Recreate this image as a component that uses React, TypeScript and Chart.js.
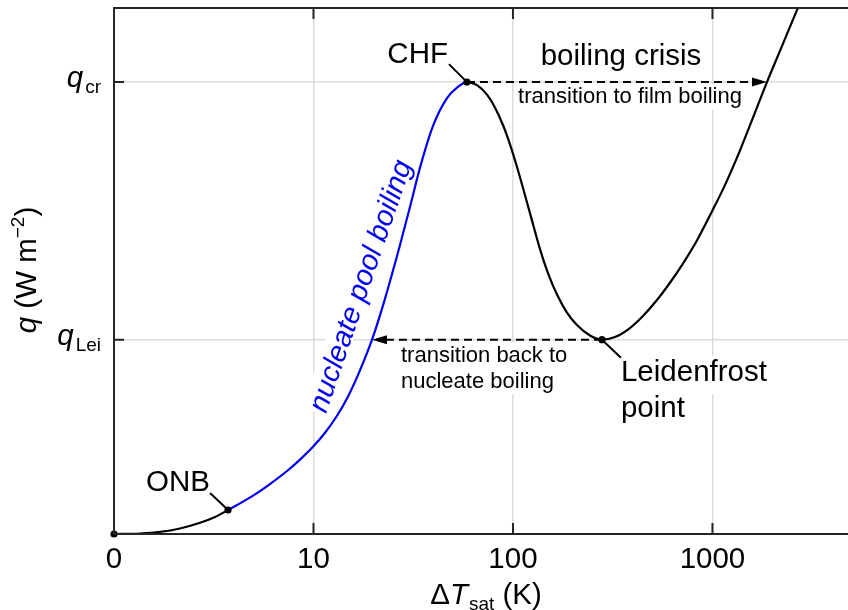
import React, { useEffect, useRef } from 'react';
import { Chart, registerables } from 'chart.js';

Chart.register(...registerables);

const FONT = '"Liberation Sans", Arial, Helvetica, sans-serif';
const BLACK = '#000000';
const BLUE = '#0000ee';
const AXIS = '#262626';
const GRID = '#dcdcdc';
const BIG = 29.5;
const SMALL = 22;
const SUB = 19;

// Wall superheat ΔT_sat (K) along the pool boiling curve
const deltaT = [
  // natural convection up to the onset of nucleate boiling
  1, 1.35, 1.7, 2.14, 2.7, 3.21, 3.73,
  // nucleate boiling up to the critical heat flux
  4.98, 6.05, 7.37, 8.56, 9.94, 11.4, 13.1, 14.9, 17.1, 19.65, 22.8, 27.1, 30.5, 34.2, 39.7, 46.7,
  52.4, 58.8,
  // transition boiling down to the Leidenfrost point
  66.0, 74.1, 81.2, 89.1, 96.6, 104.7, 117.5, 128.9, 136.6, 149.8, 166.2, 186.5, 209.3, 243.2, 279.3,
  // film boiling
  324.5, 385.9, 448.4, 526.9, 612.3, 711.4, 836.0, 994.2, 1155, 1373, 1633, 1876, 2231, 2652, 2842,
];
// Heat flux q, relative to the critical heat flux q_cr
const heatFlux = [
  0, 0.0011, 0.0046, 0.0122, 0.0248, 0.0376, 0.0531,
  0.085, 0.1106, 0.1394, 0.1646, 0.1929, 0.2235, 0.2611, 0.3044, 0.3622, 0.43, 0.5199, 0.6383,
  0.7246, 0.8108, 0.9027, 0.9646, 0.9878, 1.0,
  0.9934, 0.9723, 0.944, 0.9051, 0.8624, 0.8128, 0.7343, 0.6697, 0.6305, 0.5774, 0.5299, 0.49,
  0.4624, 0.4392, 0.43,
  0.4358, 0.4558, 0.4823, 0.5177, 0.556, 0.5985, 0.6496, 0.7137, 0.7721, 0.8485, 0.9325, 1.0,
  1.0796, 1.1593, 1.1903,
];

const Q_CR = 1.0;
const Q_LEI = 0.43;
const ONB_INDEX = 6;
const CHF_INDEX = 24;
const LEI_INDEX = 39;
const MARKED_INDICES = [0, ONB_INDEX, CHF_INDEX, LEI_INDEX];

// Superheat where the film boiling branch reaches q_cr, and where the
// nucleate branch falls back to q_Lei
const FILM_AT_QCR = 1876;
const NUCLEATE_AT_QLEI = 19.65;

const xTickValues = [1, 10, 100, 1000];
const xTickLabels = ['0', '10', '100', '1000'];
const yTickValues = [0, Q_LEI, Q_CR];
const yTickSubscripts = ['', 'Lei', 'cr'];

const X_MIN = 1;
const X_MAX = 4780;
const Y_MIN = 0;
const Y_MAX = 1.164;

type Part = { text: string; size?: number; italic?: boolean; dy?: number; gap?: number };

const fontOf = (size: number, italic?: boolean) => `${italic ? 'italic ' : ''}${size}px ${FONT}`;

function richWidth(ctx: CanvasRenderingContext2D, parts: Part[]) {
  let w = 0;
  for (const p of parts) {
    ctx.font = fontOf(p.size ?? BIG, p.italic);
    w += ctx.measureText(p.text).width + (p.gap ?? 0);
  }
  return w;
}

function drawRich(
  ctx: CanvasRenderingContext2D,
  parts: Part[],
  x: number,
  y: number,
  align: 'left' | 'center' | 'right',
) {
  const w = richWidth(ctx, parts);
  let cx = align === 'left' ? x : align === 'center' ? x - w / 2 : x - w;
  ctx.textAlign = 'left';
  ctx.textBaseline = 'alphabetic';
  for (const p of parts) {
    ctx.font = fontOf(p.size ?? BIG, p.italic);
    ctx.fillText(p.text, cx, y + (p.dy ?? 0));
    cx += ctx.measureText(p.text).width + (p.gap ?? 0);
  }
}

function boxedLabel(
  ctx: CanvasRenderingContext2D,
  text: string,
  x: number,
  y: number,
  size: number,
  align: 'left' | 'center' | 'right',
  color = BLACK,
  italic = false,
  below = 0.3,
) {
  ctx.font = fontOf(size, italic);
  const w = ctx.measureText(text).width;
  const left = align === 'left' ? x : align === 'center' ? x - w / 2 : x - w;
  ctx.fillStyle = '#ffffff';
  ctx.fillRect(left - 2, y - size * 0.85, w + 4, size * (0.85 + below));
  ctx.fillStyle = color;
  ctx.textAlign = 'left';
  ctx.textBaseline = 'alphabetic';
  ctx.fillText(text, left, y);
}

function dashedArrow(ctx: CanvasRenderingContext2D, x0: number, x1: number, y: number) {
  const dir = Math.sign(x1 - x0);
  const head = 15;
  ctx.save();
  ctx.strokeStyle = BLACK;
  ctx.fillStyle = BLACK;
  ctx.lineWidth = 2;
  ctx.setLineDash([8, 5]);
  ctx.beginPath();
  ctx.moveTo(x0, y);
  ctx.lineTo(x1 - dir * head, y);
  ctx.stroke();
  ctx.setLineDash([]);
  ctx.beginPath();
  ctx.moveTo(x1, y);
  ctx.lineTo(x1 - dir * head, y - 4.5);
  ctx.lineTo(x1 - dir * head, y + 4.5);
  ctx.closePath();
  ctx.fill();
  ctx.restore();
}

function pointPx(chart: Chart, i: number) {
  return {
    x: chart.scales.x.getPixelForValue(deltaT[i]),
    y: chart.scales.y.getPixelForValue(heatFlux[i]),
  };
}

const annotations = {
  id: 'boilingAnnotations',
  beforeDatasetsDraw(chart: Chart) {
    const ctx = chart.ctx;
    const onb = pointPx(chart, ONB_INDEX);
    const chf = pointPx(chart, CHF_INDEX);
    const lei = pointPx(chart, LEI_INDEX);
    ctx.save();
    boxedLabel(ctx, 'ONB', onb.x - 18, onb.y - 19, BIG, 'right');
    boxedLabel(ctx, 'CHF', chf.x - 19, chf.y - 19, BIG, 'right');
    boxedLabel(ctx, 'boiling crisis', 621, chf.y - 17, BIG, 'center');
    boxedLabel(ctx, 'transition to film boiling', 630, chf.y + 21, SMALL, 'center');
    boxedLabel(ctx, 'transition back to', 401, lei.y + 22, SMALL, 'left');
    boxedLabel(ctx, 'nucleate boiling', 401, lei.y + 48, SMALL, 'left');
    boxedLabel(ctx, 'Leidenfrost', lei.x + 19, lei.y + 41, BIG, 'left', BLACK, false, 0.45);
    boxedLabel(ctx, 'point', lei.x + 19, lei.y + 77, BIG, 'left');
    ctx.translate(326, 414);
    ctx.rotate((-71 * Math.PI) / 180);
    boxedLabel(ctx, 'nucleate pool boiling', 0, 0, 29, 'left', BLUE, true, 0.05);
    ctx.restore();
  },
  afterDatasetsDraw(chart: Chart) {
    const ctx = chart.ctx;
    const { x: xs, y: ys } = chart.scales;
    const onb = pointPx(chart, ONB_INDEX);
    const chf = pointPx(chart, CHF_INDEX);
    const lei = pointPx(chart, LEI_INDEX);

    dashedArrow(ctx, chf.x, xs.getPixelForValue(FILM_AT_QCR), ys.getPixelForValue(Q_CR));
    dashedArrow(ctx, lei.x, xs.getPixelForValue(NUCLEATE_AT_QLEI), ys.getPixelForValue(Q_LEI));

    // leader lines from the labels to their points
    ctx.save();
    ctx.strokeStyle = BLACK;
    ctx.lineWidth = 2;
    ctx.beginPath();
    ctx.moveTo(onb.x - 18, onb.y - 17);
    ctx.lineTo(onb.x, onb.y);
    ctx.moveTo(chf.x - 18, chf.y - 18);
    ctx.lineTo(chf.x, chf.y);
    ctx.moveTo(lei.x + 19, lei.y + 18);
    ctx.lineTo(lei.x, lei.y);
    ctx.stroke();
    ctx.restore();
  },
  afterDraw(chart: Chart) {
    const ctx = chart.ctx;
    const a = chart.chartArea;
    const { x: xs, y: ys } = chart.scales;
    ctx.save();
    ctx.strokeStyle = AXIS;
    ctx.lineWidth = 2;
    ctx.setLineDash([]);
    ctx.beginPath();
    ctx.moveTo(a.right + 2, a.top);
    ctx.lineTo(a.left, a.top);
    ctx.lineTo(a.left, a.bottom);
    ctx.lineTo(a.right + 2, a.bottom);
    ctx.stroke();

    // inward tick marks
    ctx.beginPath();
    xTickValues.slice(1).forEach((v) => {
      const p = xs.getPixelForValue(v);
      ctx.moveTo(p, a.bottom);
      ctx.lineTo(p, a.bottom - 11);
      ctx.moveTo(p, a.top);
      ctx.lineTo(p, a.top + 11);
    });
    yTickValues.slice(1).forEach((v) => {
      const p = ys.getPixelForValue(v);
      ctx.moveTo(a.left, p);
      ctx.lineTo(a.left + 10, p);
    });
    ctx.stroke();

    ctx.fillStyle = BLACK;
    // x tick labels
    ctx.font = fontOf(BIG);
    ctx.textAlign = 'center';
    ctx.textBaseline = 'alphabetic';
    xTickValues.forEach((v, i) => {
      ctx.fillText(xTickLabels[i], xs.getPixelForValue(v), a.bottom + 34);
    });

    // y tick labels: q with subscript
    yTickValues.forEach((v, i) => {
      if (!yTickSubscripts[i]) return;
      const p = ys.getPixelForValue(v);
      drawRich(
        ctx,
        [
          { text: 'q', italic: true, gap: 2 },
          { text: yTickSubscripts[i], size: SUB, dy: 6 },
        ],
        a.left - 13,
        p + 5,
        'right',
      );
    });

    // x axis title
    drawRich(
      ctx,
      [
        { text: 'Δ' },
        { text: 'T', italic: true, gap: 1 },
        { text: 'sat', size: SUB, dy: 6 },
        { text: ' (K)' },
      ],
      486,
      604,
      'center',
    );

    // y axis title
    ctx.translate(36, 270);
    ctx.rotate(-Math.PI / 2);
    drawRich(
      ctx,
      [
        { text: 'q', italic: true },
        { text: ' (W m' },
        { text: '−2', size: SUB, dy: -12 },
        { text: ')' },
      ],
      0,
      0,
      'center',
    );
    ctx.restore();
  },
};

export default function App() {
  const canvasRef = useRef<HTMLCanvasElement | null>(null);

  useEffect(() => {
    const canvas = canvasRef.current;
    if (!canvas) return;
    const chart = new Chart(canvas, {
      type: 'line',
      data: {
        datasets: [
          {
            data: deltaT.map((t, i) => ({ x: t, y: heatFlux[i] })),
            borderColor: BLACK,
            borderWidth: 2.2,
            cubicInterpolationMode: 'monotone',
            pointRadius: deltaT.map((_, i) => (MARKED_INDICES.includes(i) ? 3.6 : 0)),
            pointBackgroundColor: BLACK,
            pointBorderWidth: 0,
            pointHoverRadius: 0,
            clip: { left: 6, bottom: 6, right: 0, top: 0 },
            segment: {
              borderColor: (c: any) =>
                c.p0DataIndex >= ONB_INDEX && c.p1DataIndex <= CHF_INDEX ? BLUE : undefined,
            },
          },
        ],
      },
      options: {
        animation: false,
        responsive: true,
        maintainAspectRatio: false,
        layout: { autoPadding: false, padding: { top: 8, left: 0, right: 0, bottom: 0 } },
        plugins: {
          legend: { display: false },
          tooltip: { enabled: false },
        },
        events: [],
        scales: {
          x: {
            type: 'logarithmic',
            min: X_MIN,
            max: X_MAX,
            afterBuildTicks: (s: any) => {
              s.ticks = xTickValues.map((value) => ({ value }));
            },
            afterFit: (s: any) => {
              s.height = 76;
            },
            ticks: { display: false },
            grid: { color: GRID, lineWidth: 1.5, drawTicks: false },
            border: { display: false },
          },
          y: {
            type: 'linear',
            min: Y_MIN,
            max: Y_MAX,
            afterBuildTicks: (s: any) => {
              s.ticks = yTickValues.map((value) => ({ value }));
            },
            afterFit: (s: any) => {
              s.width = 114;
            },
            ticks: { display: false },
            grid: { color: GRID, lineWidth: 1.5, drawTicks: false },
            border: { display: false },
          },
        },
      },
      plugins: [annotations],
    } as any);
    return () => chart.destroy();
  }, []);

  return (
    <div
      style={{
        position: 'fixed',
        left: 0,
        top: 0,
        width: 848,
        height: 610,
        background: '#ffffff',
      }}
    >
      <canvas ref={canvasRef} />
    </div>
  );
}
